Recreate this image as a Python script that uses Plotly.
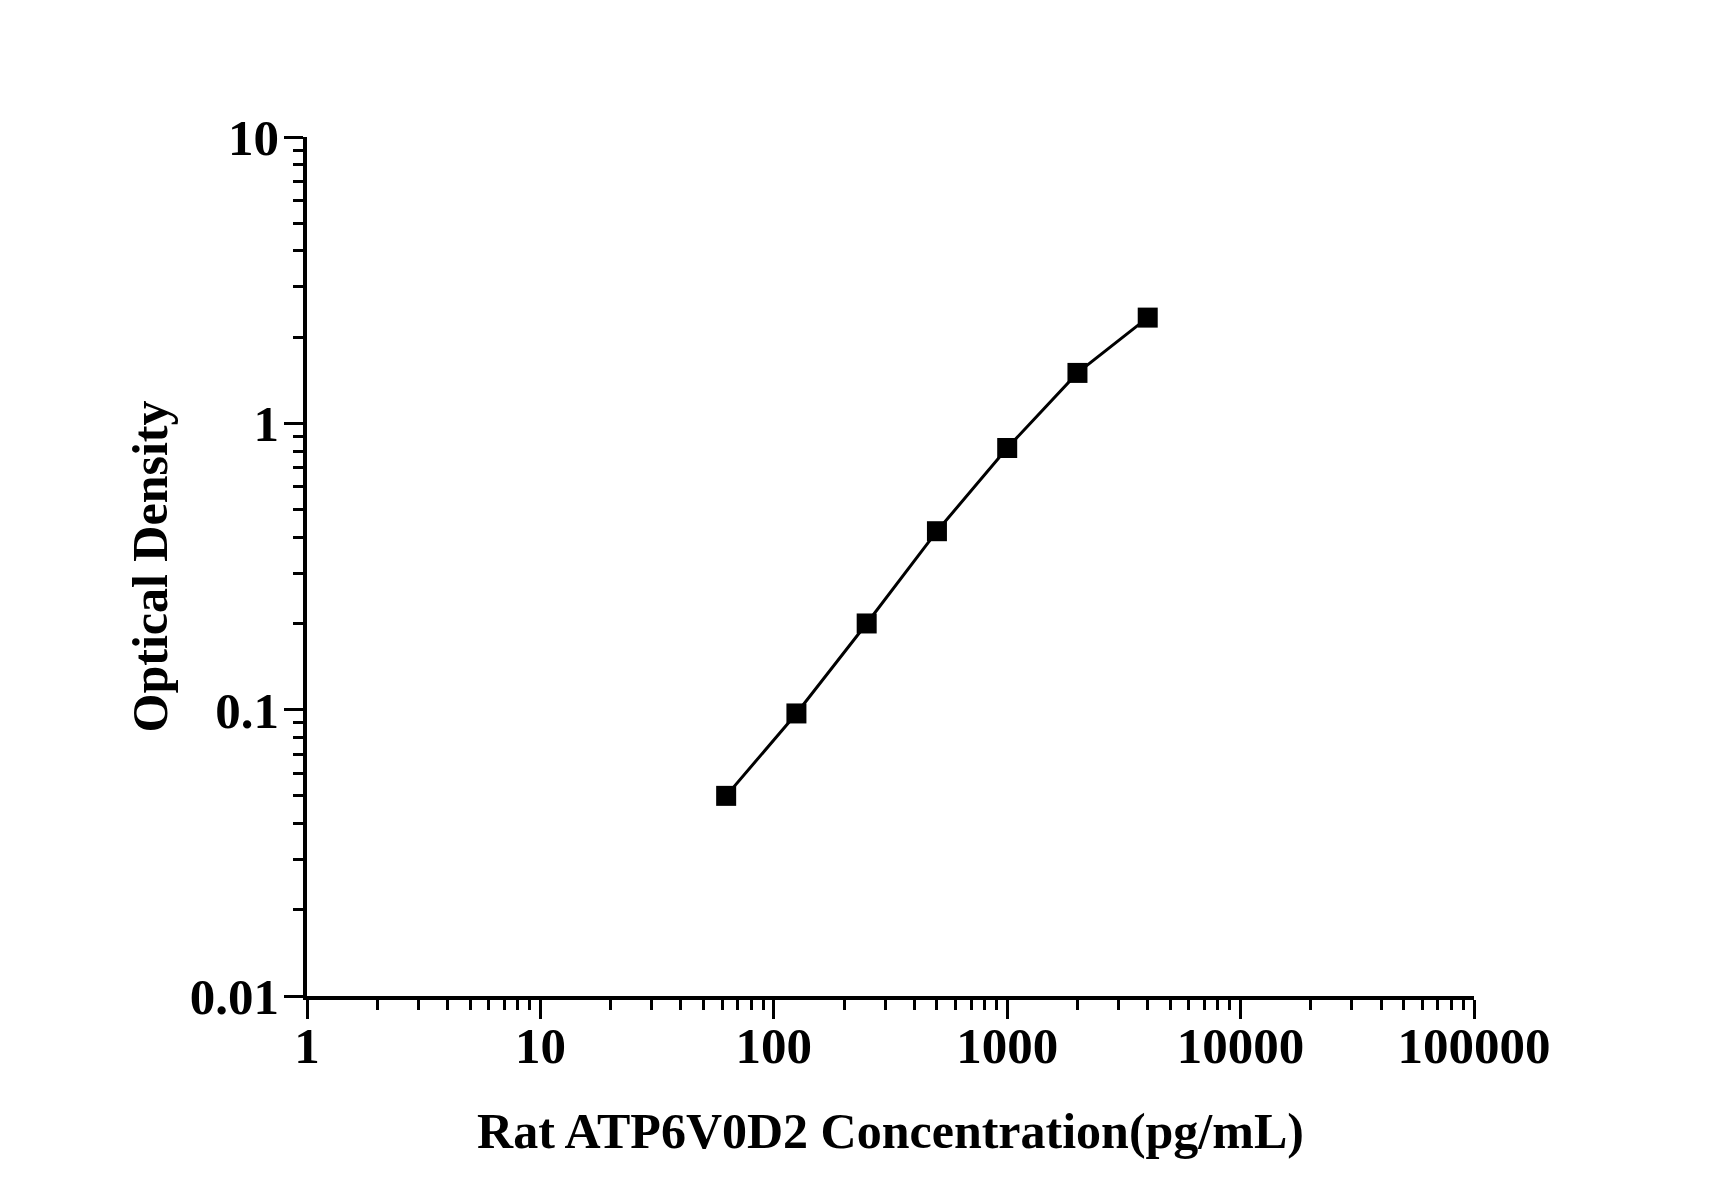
import plotly.graph_objects as go

# standard curve readings
concentration = [62.5, 125, 250, 500, 1000, 2000, 4000]
optical_density = [0.050, 0.097, 0.200, 0.42, 0.82, 1.50, 2.34]

x_tickvals = [1, 10, 100, 1000, 10000, 100000]
x_ticktext = ["1", "10", "100", "1000", "10000", "100000"]
y_tickvals = [0.01, 0.1, 1, 10]
y_ticktext = ["0.01", "0.1", "1", "10"]

FONT = "Liberation Serif, Times New Roman, serif"

fig = go.Figure()
fig.add_trace(go.Scatter(
    x=concentration,
    y=optical_density,
    mode="lines+markers",
    line=dict(color="black", width=3),
    marker=dict(symbol="square", size=20, color="black"),
    showlegend=False,
))

axis_common = dict(
    type="log",
    showline=True,
    linecolor="black",
    linewidth=3.5,
    showgrid=False,
    zeroline=False,
    ticks="outside",
    ticklen=19,
    tickwidth=3,
    tickcolor="black",
    tickmode="array",
    tickfont=dict(family=FONT, size=51, color="black", weight="bold"),
    minor=dict(ticks="outside", ticklen=10, tickwidth=2.5, tickcolor="black",
               dtick="D1", showgrid=False),
)

fig.update_xaxes(
    **axis_common,
    range=[0, 5],
    tickvals=x_tickvals,
    ticktext=x_ticktext,
    ticklabelstandoff=-17,
    title=dict(text="Rat ATP6V0D2 Concentration(pg/mL)",
               font=dict(family=FONT, size=50, color="black", weight="bold"),
               standoff=41),
)
fig.update_yaxes(
    **axis_common,
    range=[-2, 1],
    tickvals=y_tickvals,
    ticktext=y_ticktext,
    ticklabelstandoff=-5,
    title=dict(text="Optical Density",
               font=dict(family=FONT, size=50, color="black", weight="bold"),
               standoff=7),
)

fig.update_layout(
    width=1712,
    height=1196,
    margin=dict(l=299, r=246, t=129, b=208),
    paper_bgcolor="white",
    plot_bgcolor="white",
)

fig.write_html("out.html")
